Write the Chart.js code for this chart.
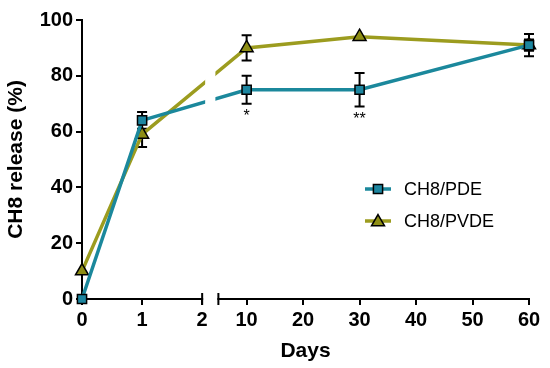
<!DOCTYPE html>
<html>
<head>
<meta charset="utf-8">
<script src="https://cdn.jsdelivr.net/npm/chart.js@4/dist/chart.umd.min.js"></script>
<style>
  html, body { margin: 0; padding: 0; background: #fff; }
  #wrap { width: 550px; height: 368px; }
</style>
</head>
<body>
<div id="wrap"><canvas id="chart" width="550" height="368"></canvas></div>
<script>
// Datos
const DAYS = [0, 1, 10, 30, 60];
const PDE = [0, 64, 75, 75, 91];
const PDE_ERR = [0, 3, 5, 6, 4];
const PVDE = [10, 59, 90, 94, 91];
const PVDE_ERR = [0, 4.5, 4.5, 0, 2];
const STARS = ['', '', '*', '**', ''];
const X_TICKS = [0, 1, 2, 10, 20, 30, 40, 50, 60];
const Y_TICKS = [0, 20, 40, 60, 80, 100];
const LABELS = ['CH8/PDE', 'CH8/PVDE'];

const TEAL = '#1b889c';
const TEAL_FILL = '#1d86a0';
const OLIVE = '#9c9c1f';
const OLIVE_FILL = '#8e8e15';
const FONT = '"Liberation Sans", Arial, sans-serif';

// Eje X partido: 0-2 días a escala propia, luego 5-60 días comprimidos
const SEG2_START = 5;
const GAP = 0.27;
const SEG2_SCALE = 0.094;
const pos = d => d <= 2 ? d : 2 + GAP + (d - SEG2_START) * SEG2_SCALE;

const toPoints = (vals) => DAYS.map((d, i) => ({ x: pos(d), y: vals[i] }));

// Barras de error, hueco del corte, asteriscos y leyenda
const errorBars = {
  id: 'errorBars',
  beforeDatasetsDraw(chart) {
    const { ctx, scales: { x, y } } = chart;
    ctx.save();
    ctx.strokeStyle = '#000';
    ctx.lineWidth = 2;
    [[PDE, PDE_ERR], [PVDE, PVDE_ERR]].forEach(([vals, errs]) => {
      DAYS.forEach((d, i) => {
        if (!errs[i]) return;
        const px = x.getPixelForValue(pos(d));
        const top = y.getPixelForValue(vals[i] + errs[i]);
        const bot = y.getPixelForValue(vals[i] - errs[i]);
        ctx.beginPath();
        ctx.moveTo(px, top); ctx.lineTo(px, bot);
        ctx.moveTo(px - 5, top); ctx.lineTo(px + 5, top);
        ctx.moveTo(px - 5, bot); ctx.lineTo(px + 5, bot);
        ctx.stroke();
      });
    });
    ctx.restore();
  },
  afterDatasetsDraw(chart) {
    const { ctx, chartArea, scales: { x, y } } = chart;
    // Hueco de las líneas en la zona del corte
    const x0 = x.getPixelForValue(pos(2)) + 3;
    const x1 = x.getPixelForValue(pos(SEG2_START)) - 3;
    ctx.save();
    ctx.fillStyle = '#fff';
    ctx.fillRect(x0, chartArea.top - 5, x1 - x0, chartArea.bottom - chartArea.top - 3);

    // Asteriscos de significancia
    ctx.fillStyle = '#000';
    ctx.font = '16px ' + FONT;
    ctx.textAlign = 'center';
    ctx.textBaseline = 'middle';
    DAYS.forEach((d, i) => {
      if (!STARS[i]) return;
      const px = x.getPixelForValue(pos(d));
      const py = y.getPixelForValue(PDE[i] - PDE_ERR[i]) + 13;
      ctx.fillText(STARS[i], px, py);
    });
    ctx.restore();
  },
  afterDraw(chart) {
    const { ctx, chartArea, scales: { x } } = chart;
    const a = x.getPixelForValue(pos(2));
    const b = x.getPixelForValue(pos(SEG2_START));
    const yb = chartArea.bottom;
    ctx.save();
    ctx.fillStyle = '#fff';
    ctx.fillRect(a + 1, yb - 3, b - a - 2, 6);
    ctx.strokeStyle = '#000';
    ctx.lineWidth = 2;
    ctx.beginPath();
    ctx.moveTo(a, yb - 6); ctx.lineTo(a, yb + 6);
    ctx.moveTo(b, yb - 6); ctx.lineTo(b, yb + 6);
    ctx.stroke();

    // Leyenda
    const items = [
      { label: LABELS[0], color: TEAL, fill: TEAL_FILL, style: 'rect', r: 6.5 },
      { label: LABELS[1], color: OLIVE, fill: OLIVE_FILL, style: 'triangle', r: 7.5 }
    ];
    items.forEach((it, i) => {
      const ly = 189 + i * 32;
      ctx.strokeStyle = it.color;
      ctx.lineWidth = 3.5;
      ctx.beginPath();
      ctx.moveTo(365, ly); ctx.lineTo(391, ly);
      ctx.stroke();
      ctx.fillStyle = it.fill;
      ctx.strokeStyle = '#000';
      ctx.lineWidth = 1.5;
      Chart.helpers.drawPoint(ctx, { pointStyle: it.style, radius: it.r, rotation: 0, borderWidth: 1.5 }, 378, ly + (it.style === 'triangle' ? 1 : 0));
      ctx.fillStyle = '#000';
      ctx.font = '18px ' + FONT;
      ctx.textAlign = 'left';
      ctx.textBaseline = 'middle';
      ctx.fillText(it.label, 404, ly + 1);
    });
    ctx.restore();
  }
};

const ctx = document.getElementById('chart').getContext('2d');

new Chart(ctx, {
  type: 'line',
  data: {
    datasets: [
      {
        label: LABELS[0],
        data: toPoints(PDE),
        borderColor: TEAL,
        borderWidth: 3.5,
        backgroundColor: TEAL_FILL,
        pointStyle: 'rect',
        pointRadius: 6.5,
        pointBorderColor: '#000',
        pointBorderWidth: 1.5,
        tension: 0,
        clip: false
      },
      {
        label: LABELS[1],
        data: toPoints(PVDE),
        borderColor: OLIVE,
        borderWidth: 3.5,
        backgroundColor: OLIVE_FILL,
        pointStyle: 'triangle',
        pointRadius: 7.5,
        pointBorderColor: '#000',
        pointBorderWidth: 1.5,
        tension: 0,
        clip: false
      }
    ]
  },
  options: {
    responsive: false,
    animation: false,
    layout: { padding: { top: 20, right: 21, bottom: 0, left: 0 } },
    plugins: {
      legend: { display: false },
      tooltip: { enabled: false }
    },
    scales: {
      x: {
        type: 'linear',
        min: 0,
        max: pos(60),
        afterFit: axis => { axis.height = 69; },
        afterBuildTicks: axis => { axis.ticks = X_TICKS.map(d => ({ value: pos(d) })); },
        border: { color: '#000', width: 2 },
        grid: { drawOnChartArea: false, tickLength: 6, color: '#000', lineWidth: 2 },
        ticks: {
          color: '#000',
          padding: 3,
          maxRotation: 0,
          autoSkip: false,
          font: { family: FONT, size: 20, weight: 'bold' },
          callback: (v, i) => X_TICKS[i]
        },
        title: {
          display: true,
          text: 'Days',
          color: '#000',
          font: { family: FONT, size: 21, weight: 'bold' },
          padding: { top: 0, bottom: 4 }
        }
      },
      y: {
        min: 0,
        max: 100,
        afterFit: axis => { axis.width = 82; },
        afterBuildTicks: axis => { axis.ticks = Y_TICKS.map(v => ({ value: v })); },
        border: { color: '#000', width: 2 },
        grid: { drawOnChartArea: false, tickLength: 6, color: '#000', lineWidth: 2 },
        ticks: {
          color: '#000',
          padding: 3,
          font: { family: FONT, size: 20, weight: 'bold' }
        },
        title: {
          display: true,
          text: 'CH8 release (%)',
          color: '#000',
          font: { family: FONT, size: 21, weight: 'bold' },
          padding: { top: 4, bottom: 0 }
        }
      }
    }
  },
  plugins: [errorBars]
});
</script>
</body>
</html>
